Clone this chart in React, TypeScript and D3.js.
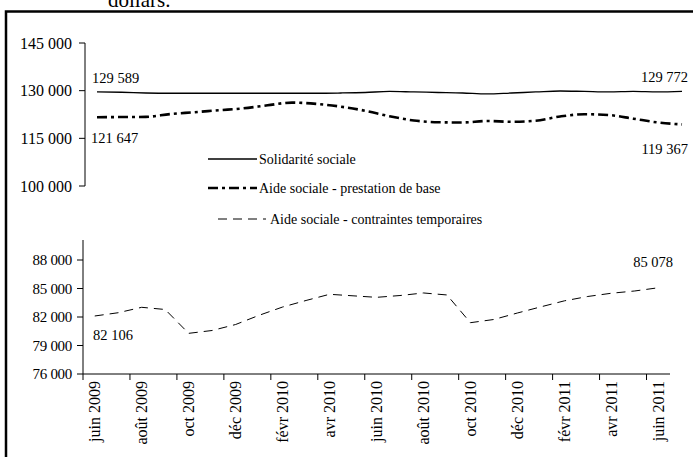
import * as d3 from 'd3'

// months, one per point
const months = [
  'juin 2009', 'juil 2009', 'août 2009', 'sept 2009', 'oct 2009', 'nov 2009', 'déc 2009',
  'janv 2010', 'févr 2010', 'mars 2010', 'avr 2010', 'mai 2010', 'juin 2010', 'juil 2010',
  'août 2010', 'sept 2010', 'oct 2010', 'nov 2010', 'déc 2010', 'janv 2011', 'févr 2011',
  'mars 2011', 'avr 2011', 'mai 2011', 'juin 2011',
]

const solidarite = [
  129589, 129500, 129270, 129180, 129180, 129180, 129180, 129180, 129180, 129180, 129270, 129430,
  129750, 129590, 129430, 129270, 128960, 129270, 129590, 129900, 129750, 129590, 129750, 129590,
  129772,
]
const prestation = [
  121647, 121700, 121750, 122640, 123210, 123840, 124440, 125390, 126240, 125830, 124980, 123680,
  121950, 120620, 120050, 119990, 120460, 120210, 120530, 121880, 122580, 122330, 121190, 120000,
  119367,
]
const contraintes = [
  82106, 82450, 83020, 82790, 80280, 80580, 81210, 82180, 83050, 83740, 84390, 84230, 84070, 84260,
  84530, 84320, 81400, 81740, 82420, 83070, 83700, 84160, 84500, 84740, 85078,
]

const upperTicks = [100000, 115000, 130000, 145000]
const lowerTicks = [76000, 79000, 82000, 85000, 88000]
const legendLabels = [
  'Solidarité sociale',
  'Aide sociale - prestation de base',
  'Aide sociale - contraintes temporaires',
]

const fmt = d3
  .formatLocale({ decimal: ',', thousands: ' ', grouping: [3], currency: ['', ''] })
  .format(',')

const font = "'Liberation Serif', 'Times New Roman', serif"

export default function App() {
  const width = 693
  const height = 457

  // upper panel (x axis hidden)
  const xu = d3.scalePoint<string>().domain(months).range([97, 682])
  const yu = d3.scaleLinear().domain([100000, 145000]).range([186, 43])

  // lower panel
  const xl = d3.scaleBand<string>().domain(months).range([83, 670]).padding(0)
  const yl = d3.scaleLinear().domain([76000, 88000]).range([374, 260])
  const cx = (m: string) => (xl(m) ?? 0) + xl.bandwidth() / 2

  const upperLine = d3
    .line<number>()
    .x((_, i) => xu(months[i]) ?? 0)
    .y((d) => yu(d))
    .curve(d3.curveMonotoneX)

  const lowerLine = d3
    .line<number>()
    .x((_, i) => cx(months[i]))
    .y((d) => yl(d))

  const shown = months.filter((_, i) => i % 2 === 0)
  const last = months.length - 1

  const styles = [
    { w: 1.3, dash: undefined as string | undefined },
    { w: 2.6, dash: '10 4 3 4' },
    { w: 1, dash: '9 6' },
  ]
  const legendY = [159, 188, 219]

  return (
    <svg
      width={width}
      height={height}
      style={{ position: 'absolute', left: 0, top: 0, background: '#fff' }}
      fontFamily={font}
    >
      <text x={108} y={7} fontSize={21}>
        dollars.
      </text>
      <rect x={6} y={11.5} width={700} height={460} fill="none" stroke="#000" strokeWidth={2.5} />

      {/* upper y axis */}
      <line x1={85} x2={85} y1={yu(145000)} y2={yu(100000)} stroke="#000" />
      {upperTicks.map((t) => (
        <g key={t}>
          <line x1={79} x2={85} y1={yu(t)} y2={yu(t)} stroke="#000" />
          <text x={72} y={yu(t)} dy="0.35em" textAnchor="end" fontSize={16}>
            {fmt(t)}
          </text>
        </g>
      ))}

      <path d={upperLine(solidarite) ?? ''} fill="none" stroke="#000" strokeWidth={styles[0].w} />
      <path
        d={upperLine(prestation) ?? ''}
        fill="none"
        stroke="#000"
        strokeWidth={styles[1].w}
        strokeDasharray={styles[1].dash}
      />

      <text x={92} y={yu(solidarite[0]) - 14} dy="0.35em" fontSize={14.5}>
        {fmt(solidarite[0])}
      </text>
      <text x={688} y={yu(solidarite[last]) - 14} dy="0.35em" fontSize={14.5} textAnchor="end">
        {fmt(solidarite[last])}
      </text>
      <text x={91} y={yu(prestation[0]) + 21} dy="0.35em" fontSize={14.5}>
        {fmt(prestation[0])}
      </text>
      <text x={688} y={yu(prestation[last]) + 24} dy="0.35em" fontSize={14.5} textAnchor="end">
        {fmt(prestation[last])}
      </text>

      {/* legend */}
      {legendLabels.map((l, i) => (
        <g key={l}>
          <line
            x1={i === 2 ? 218 : 208}
            x2={i === 2 ? 266 : 257}
            y1={legendY[i]}
            y2={legendY[i]}
            stroke="#000"
            strokeWidth={styles[i].w}
            strokeDasharray={styles[i].dash}
          />
          <text x={i === 2 ? 270 : 259} y={legendY[i]} dy="0.35em" fontSize={14}>
            {l}
          </text>
        </g>
      ))}

      {/* lower y axis */}
      <line x1={83} x2={83} y1={240} y2={374} stroke="#000" />
      {lowerTicks.map((t) => (
        <g key={t}>
          <line x1={77} x2={83} y1={yl(t)} y2={yl(t)} stroke="#000" />
          <text x={72} y={yl(t)} dy="0.35em" textAnchor="end" fontSize={15} letterSpacing={-0.3}>
            {fmt(t)}
          </text>
        </g>
      ))}

      {/* lower x axis */}
      <line x1={83} x2={670} y1={374} y2={374} stroke="#000" />
      {shown.map((m) => (
        <g key={m}>
          <line x1={xl(m)} x2={xl(m)} y1={374} y2={380} stroke="#000" />
          <text
            transform={`translate(${cx(m) + 5.5},381) rotate(-90)`}
            textAnchor="end"
            fontSize={16}
          >
            {m}
          </text>
        </g>
      ))}

      <path
        d={lowerLine(contraintes) ?? ''}
        fill="none"
        stroke="#000"
        strokeWidth={styles[2].w}
        strokeDasharray={styles[2].dash}
      />
      <text x={93} y={yl(contraintes[0]) + 19} dy="0.35em" fontSize={14.5}>
        {fmt(contraintes[0])}
      </text>
      <text x={673} y={yl(contraintes[last]) - 26} dy="0.35em" fontSize={14.5} textAnchor="end">
        {fmt(contraintes[last])}
      </text>
    </svg>
  )
}
